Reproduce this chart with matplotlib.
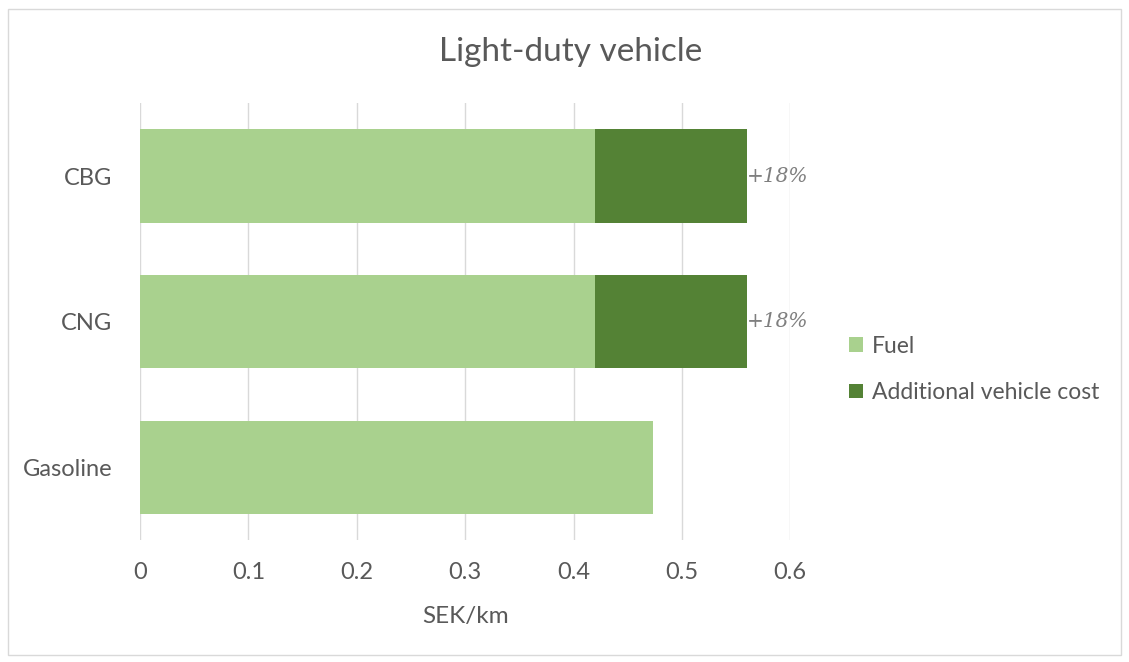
import matplotlib

matplotlib.use("Agg")
import matplotlib.pyplot as plt
from matplotlib.patches import Rectangle

# Datos
categories = ["Gasoline", "CNG", "CBG"]
fuel = [0.473, 0.42, 0.42]
additional = [0.0, 0.14, 0.14]
increase_labels = ["", "+18%", "+18%"]
xticks = [0, 0.1, 0.2, 0.3, 0.4, 0.5, 0.6]
xtick_labels = ["0", "0.1", "0.2", "0.3", "0.4", "0.5", "0.6"]

FUEL_COLOR = "#a9d18e"
ADD_COLOR = "#548235"
TEXT_COLOR = "#595959"

plt.rcParams["font.family"] = ["Lato", "DejaVu Sans"]

fig = plt.figure(figsize=(11.29, 6.62), dpi=100)
ax = fig.add_axes([0.124, 0.184, 0.576, 0.660])

y = list(range(len(categories)))
ax.barh(y, fuel, height=0.64, color=FUEL_COLOR, label="Fuel", zorder=2)
ax.barh(y, additional, left=fuel, height=0.64, color=ADD_COLOR,
        label="Additional vehicle cost", zorder=2)

for yi, f, a, lab in zip(y, fuel, additional, increase_labels):
    if lab:
        ax.text(f + a, yi, lab, ha="left", va="center", fontsize=14.5,
                style="italic", color="#7f7f7f", family="DejaVu Serif")

ax.set_xlim(0, 0.6)
ax.set_ylim(-0.5, 2.5)
ax.set_xticks(xticks)
ax.set_xticklabels(xtick_labels)
ax.set_yticks(y)
ax.set_yticklabels(categories)
ax.tick_params(axis="both", length=0, labelsize=17, colors=TEXT_COLOR)
ax.tick_params(axis="x", pad=16)
ax.tick_params(axis="y", pad=20)
ax.grid(axis="x", color="#d9d9d9", linewidth=1, zorder=0)
for s in ax.spines.values():
    s.set_visible(False)
ax.set_xlabel("SEK/km", fontsize=17.5, color=TEXT_COLOR, labelpad=16)

fig.text(0.505, 0.922, "Light-duty vehicle", ha="center", va="center",
         fontsize=24, color=TEXT_COLOR)

h, l = ax.get_legend_handles_labels()
leg = fig.legend(h, l, loc="center left", bbox_to_anchor=(0.734, 0.442),
                 frameon=False, fontsize=16.5, handlelength=0.6, handleheight=0.6,
                 handletextpad=0.4, labelspacing=1.1, labelcolor=TEXT_COLOR)

# borde del grafico
fig.patches.append(Rectangle((0.007, 0.011), 0.986, 0.976, transform=fig.transFigure,
                             fill=False, edgecolor="#d9d9d9", linewidth=1))

fig.savefig("out.png", dpi=100)
